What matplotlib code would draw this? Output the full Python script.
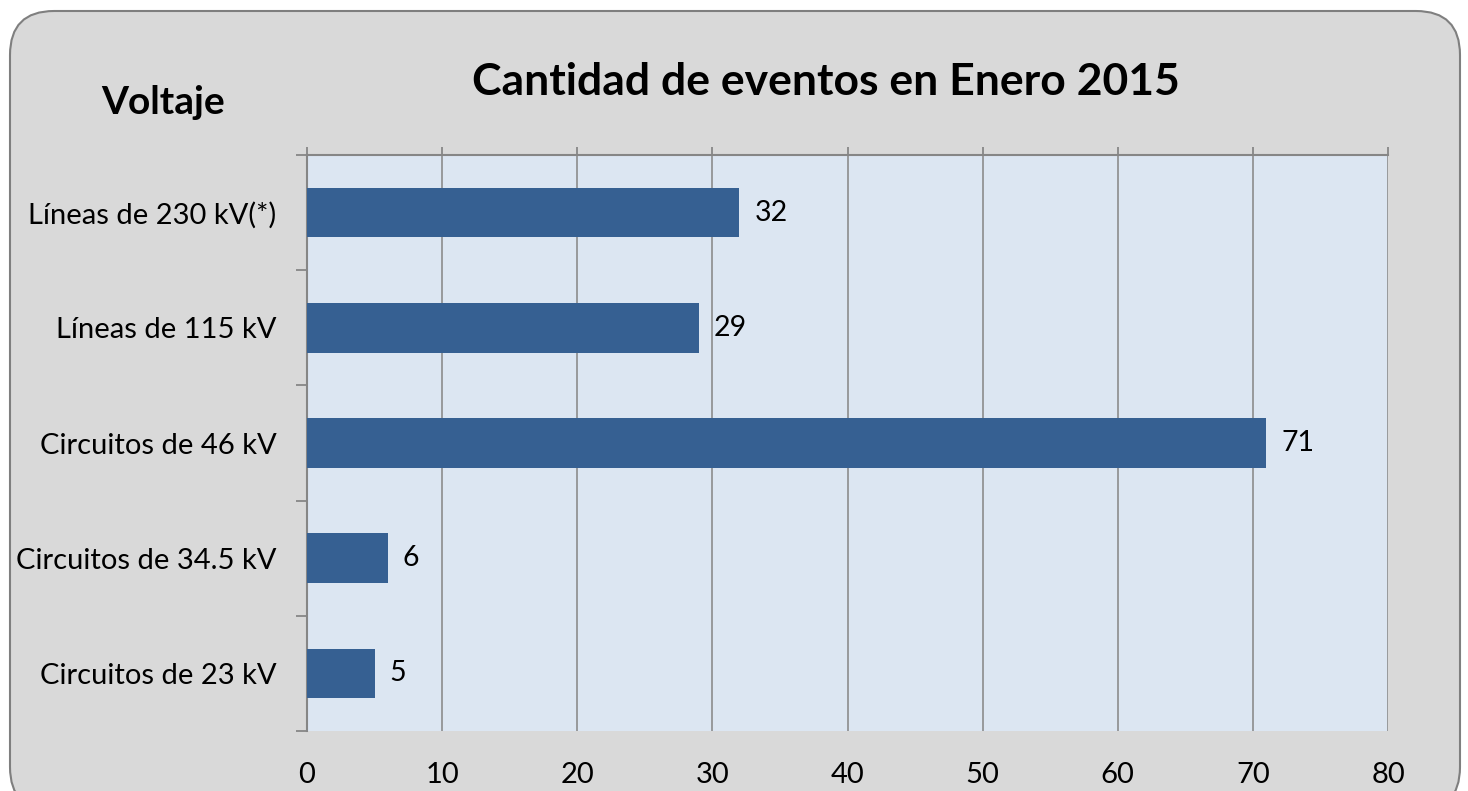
import matplotlib
matplotlib.use('Agg')
import matplotlib.pyplot as plt
from matplotlib.patches import FancyBboxPatch

plt.rcParams['font.family'] = ['Lato', 'DejaVu Sans']

categorias = ['Líneas de 230 kV(*)', 'Líneas de 115 kV', 'Circuitos de 46 kV',
              'Circuitos de 34.5 kV', 'Circuitos de 23 kV']
eventos = [32, 29, 71, 6, 5]
xticks = [0, 10, 20, 30, 40, 50, 60, 70, 80]

fig = plt.figure(figsize=(14.68, 7.91), dpi=100, facecolor='white')

# rounded gray chart area
box = FancyBboxPatch((10 / 1468, -20 / 791), 1450 / 1468, 800 / 791,
                     boxstyle='round,pad=0,rounding_size=0.03',
                     transform=fig.transFigure, facecolor='#d9d9d9',
                     edgecolor='#7f7f7f', linewidth=1.5, mutation_aspect=1468 / 791,
                     zorder=-5)
fig.patches.append(box)

ax = fig.add_axes([307 / 1468, 60 / 791, 1081 / 1468, 576 / 791])
ax.set_facecolor('#dce6f2')

y = range(len(categorias))
ax.barh(y, eventos, height=0.43, color='#366092', zorder=3)
for yi, v in zip(y, eventos):
    ax.text(v + 1.1, yi, str(v), va='center', ha='left', fontsize=20.5, zorder=4)

ax.set_xlim(0, 80)
ax.set_ylim(4.5, -0.5)
ax.set_xticks(xticks)
ax.set_yticks(list(y))
ax.set_yticklabels(categorias, fontsize=21)
ax.set_yticks([i - 0.5 for i in range(len(categorias) + 1)], minor=True)

ax.tick_params(axis='y', which='major', length=0, pad=22)
ax.tick_params(axis='y', which='minor', length=8, width=1.3, color='#868686')
ax.tick_params(axis='x', which='major', top=True, bottom=False, labelbottom=True,
               labeltop=False, direction='out', length=6, width=1.3,
               color='#868686', labelsize=21, pad=16)

ax.grid(axis='x', color='#8c8c8c', linewidth=1.2, zorder=1)
ax.set_axisbelow(True)

for s in ['right', 'bottom']:
    ax.spines[s].set_visible(False)
for s in ['top', 'left']:
    ax.spines[s].set_color('#868686')
    ax.spines[s].set_linewidth(1.5)

fig.text(826 / 1468, 1 - 82 / 791, 'Cantidad de eventos en Enero 2015',
         ha='center', va='center', fontsize=32, fontweight='bold')
fig.text(163 / 1468, 1 - 102 / 791, 'Voltaje', ha='center', va='center',
         fontsize=28, fontweight='bold')

fig.savefig('out.png', dpi=100, facecolor='white')
